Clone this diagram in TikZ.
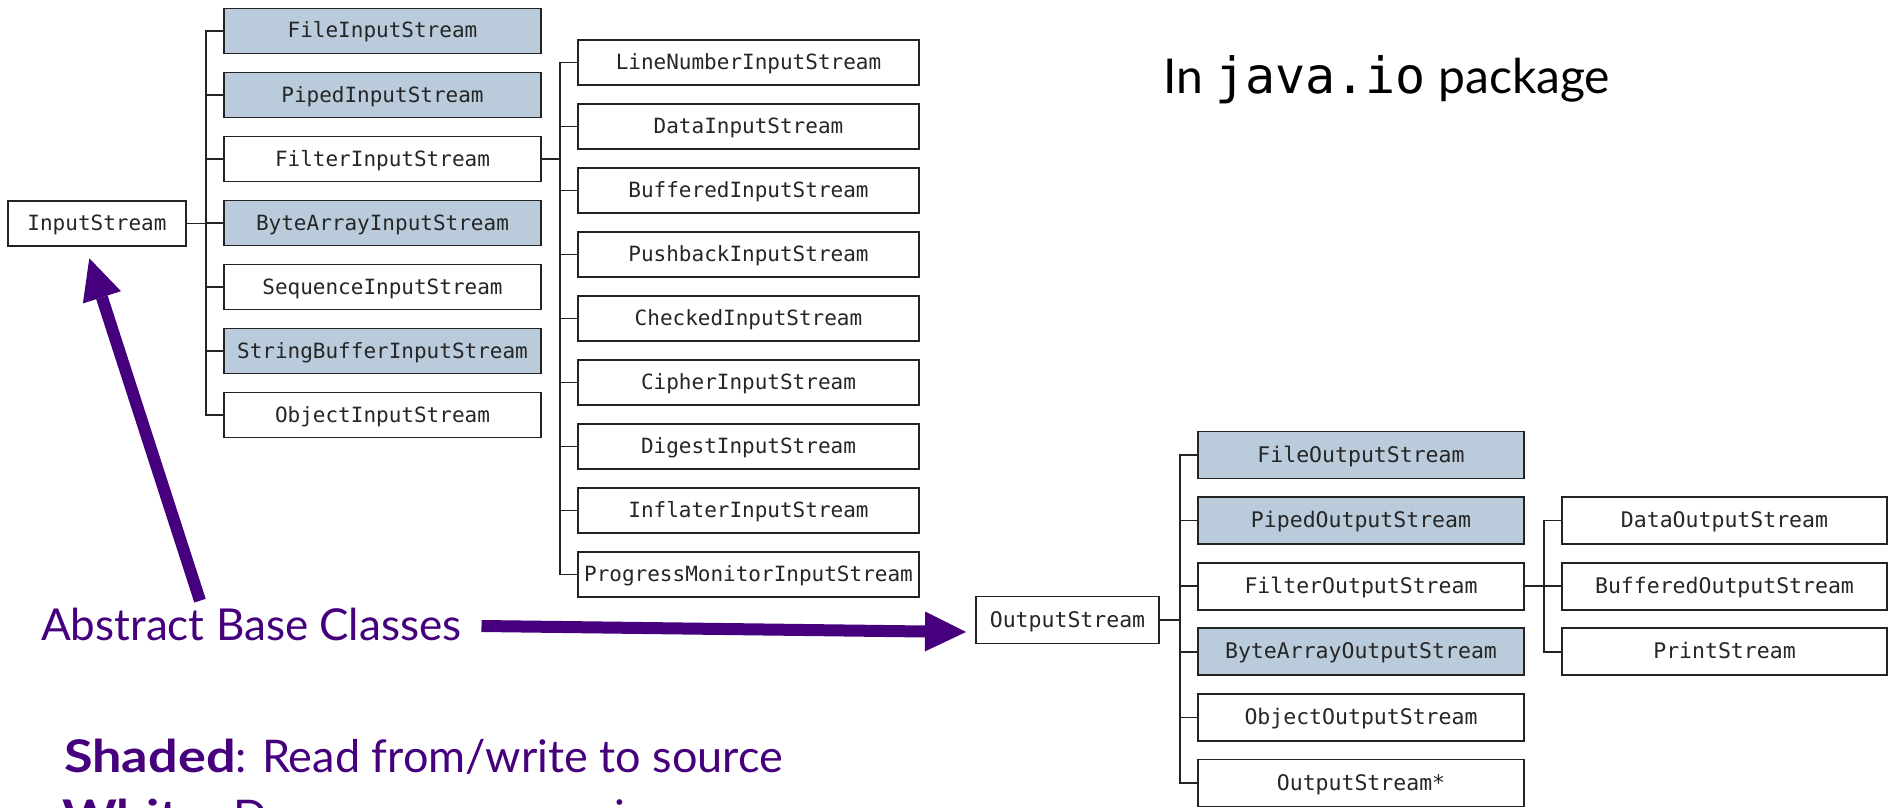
\documentclass[tikz,border=0pt]{standalone}
\usepackage{fontspec}
\setmainfont{Lato}
\setmonofont{DejaVu Sans Mono}
\usetikzlibrary{arrows.meta}
\definecolor{shadefill}{RGB}{186,203,220}
\definecolor{purp}{RGB}{70,0,126}
\definecolor{bord}{RGB}{35,35,35}
\newcommand{\widebf}[1]{\scalebox{1.16}[1]{\textbf{#1}}}
\begin{document}
\begin{tikzpicture}[x=1pt,y=-1pt,
  cls/.style={draw=bord, line width=1.8pt, fill=white, inner sep=0pt,
    text height=15pt, text depth=1pt, text=black!85},
  incls/.style={cls, minimum height=45pt, font=\ttfamily\fontsize{21}{24}\selectfont},
  outcls/.style={cls, minimum height=47pt, font=\ttfamily\fontsize{21.5}{24}\selectfont},
  shd/.style={fill=shadefill},
  conn/.style={draw=bord, line width=1.6pt},
  purptext/.style={text=purp, inner sep=0pt, anchor=base west},
  bigarrow/.style={draw=purp, line width=12pt, -{Triangle[length=41pt,width=40pt,line width=0pt]}}
]
\useasboundingbox (0,0) rectangle (1892,808);
\fill[white] (0,0) rectangle (1892,808);

% ---------------- InputStream tree
\node[incls, minimum width=178pt] (is) at (97,223.5) {InputStream};
\begin{scope}[every node/.append style={incls, minimum width=317pt}]
\node[shd] (fis)  at (382.5,31)  {FileInputStream};
\node[shd] (pis)  at (382.5,95)  {PipedInputStream};
\node      (filt) at (382.5,159) {FilterInputStream};
\node[shd] (bais) at (382.5,223) {ByteArrayInputStream};
\node      (sis)  at (382.5,287) {SequenceInputStream};
\node[shd] (sbis) at (382.5,351) {StringBufferInputStream};
\node      (ois)  at (382.5,415) {ObjectInputStream};
\end{scope}
\foreach \c in {fis,pis,filt,bais,sis,sbis,ois}
  \draw[conn] (is.east) -- ++(19,0) |- (\c.west);

\begin{scope}[every node/.append style={incls, minimum width=341pt}]
\node (lnis) at (748.5,62.6)  {LineNumberInputStream};
\node (dis)  at (748.5,126.6) {DataInputStream};
\node (bis)  at (748.5,190.6) {BufferedInputStream};
\node (pbis) at (748.5,254.6) {PushbackInputStream};
\node (cis)  at (748.5,318.6) {CheckedInputStream};
\node (cpis) at (748.5,382.6) {CipherInputStream};
\node (dgis) at (748.5,446.6) {DigestInputStream};
\node (iis)  at (748.5,510.6) {InflaterInputStream};
\node (pmis) at (748.5,574.6) {ProgressMonitorInputStream};
\end{scope}
\foreach \c in {lnis,dis,bis,pbis,cis,cpis,dgis,iis,pmis}
  \draw[conn] (filt.east) -- ++(18,0) |- (\c.west);

% ---------------- OutputStream tree
\node[outcls, minimum width=183pt] (os) at (1067.5,620) {OutputStream};
\begin{scope}[every node/.append style={outcls, minimum width=326pt}]
\node[shd] (fos)  at (1361,455)   {FileOutputStream};
\node[shd] (pos)  at (1361,520.6) {PipedOutputStream};
\node      (ofil) at (1361,586.2) {FilterOutputStream};
\node[shd] (baos) at (1361,651.8) {ByteArrayOutputStream};
\node      (oos)  at (1361,717.4) {ObjectOutputStream};
\node      (oss)  at (1361,783)   {OutputStream*};
\end{scope}
\foreach \c in {fos,pos,ofil,baos,oos,oss}
  \draw[conn] (os.east) -- ++(20,0) |- (\c.west);

\begin{scope}[every node/.append style={outcls, minimum width=325pt}]
\node (dos) at (1724.5,520.6) {DataOutputStream};
\node (bos) at (1724.5,586.2) {BufferedOutputStream};
\node (ps)  at (1724.5,651.8) {PrintStream};
\end{scope}
\foreach \c in {dos,bos,ps}
  \draw[conn] (ofil.east) -- ++(19,0) |- (\c.west);

% ---------------- texts
\node[inner sep=0pt, anchor=base west, font=\fontsize{48}{56}\selectfont] (title) at (1163,93)
  {In {\ttfamily\fontsize{50}{56}\selectfont java.io} package};
\node[purptext, font=\fontsize{44}{50}\selectfont] (abc) at (41,640) {Abstract Base Classes};
\node[purptext, font=\fontsize{45}{50}\selectfont] (shaded) at (64,772) {\widebf{Shaded}: Read from/write to source};
\node[purptext, font=\fontsize{45}{50}\selectfont] (white) at (62,832) {\widebf{White}: Does some processing};

% ---------------- arrows
\coordinate (upTail) at (200,600.7);
\coordinate (upTip) at (89.3,258.3);
\coordinate (hTail) at (481.5,626);
\coordinate (hTip) at (966,632);
\draw[bigarrow] (upTail) -- (upTip);
\draw[bigarrow] (hTail) -- (hTip);
\end{tikzpicture}
\end{document}
